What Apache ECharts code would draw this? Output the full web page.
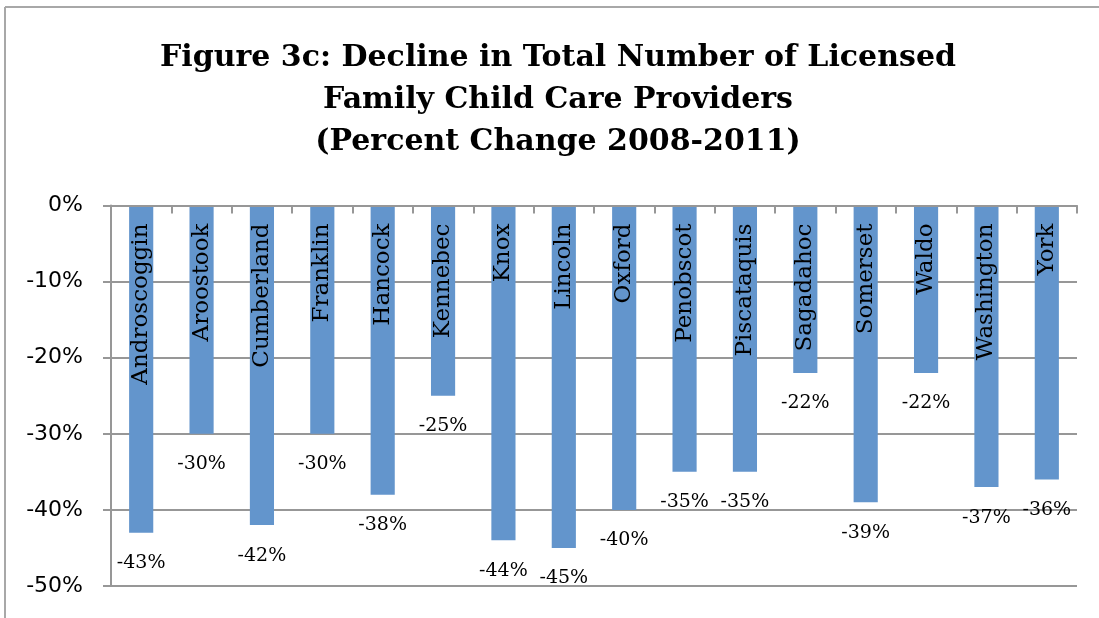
<!DOCTYPE html>
<html>
<head>
<meta charset="utf-8">
<script src="https://cdn.jsdelivr.net/npm/echarts@6/dist/echarts.min.js"></script>
<style>
html, body { margin: 0; padding: 0; background: #ffffff; }
#chart { width: 1099px; height: 618px; }
</style>
</head>
<body>
<div id="chart"></div>
<script>
const titleLines = [
  'Figure 3c: Decline in Total Number of Licensed',
  'Family Child Care Providers',
  '(Percent Change 2008-2011)'
];
const counties = ['Androscoggin', 'Aroostook', 'Cumberland', 'Franklin', 'Hancock', 'Kennebec', 'Knox', 'Lincoln', 'Oxford', 'Penobscot', 'Piscataquis', 'Sagadahoc', 'Somerset', 'Waldo', 'Washington', 'York'];
const percentChange = [-43, -30, -42, -30, -38, -25, -44, -45, -40, -35, -35, -22, -39, -22, -37, -36];
const yTicks = [0, -10, -20, -30, -40, -50];

const chart = echarts.init(document.getElementById('chart'), null, { renderer: 'canvas' });
const lineColor = '#979797';
chart.setOption({
  backgroundColor: '#ffffff',
  animation: false,
  title: {
    text: titleLines.join('\n'),
    left: 558,
    top: 37,
    padding: 0,
    textAlign: 'center',
    textStyle: {
      fontFamily: 'DejaVu Serif',
      fontWeight: 'bold',
      fontSize: 30,
      lineHeight: 42,
      color: '#000000'
    }
  },
  graphic: [
    { type: 'line', shape: { x1: 5, y1: 7, x2: 1099, y2: 7 }, style: { stroke: '#a8a8a8', lineWidth: 2 } },
    { type: 'line', shape: { x1: 5, y1: 7, x2: 5, y2: 618 }, style: { stroke: '#a8a8a8', lineWidth: 2 } }
  ],
  grid: { left: 111, right: 22, top: 205.5, bottom: 32, containLabel: false },
  xAxis: {
    type: 'category',
    position: 'top',
    data: counties,
    z: 5,
    axisLine: { show: true, lineStyle: { color: lineColor, width: 2 } },
    axisTick: { show: true, inside: true, length: 8, lineStyle: { color: lineColor, width: 2 } },
    axisLabel: {
      inside: true,
      rotate: 90,
      margin: 18,
      interval: 0,
      fontFamily: 'DejaVu Serif',
      fontSize: 23,
      color: '#000000'
    },
    splitLine: { show: false }
  },
  yAxis: {
    type: 'value',
    min: -50,
    max: 0,
    interval: 10,
    axisLine: { show: true, lineStyle: { color: lineColor, width: 2 } },
    axisTick: { show: true, length: 8, lineStyle: { color: lineColor, width: 2 } },
    axisLabel: {
      margin: 28,
      formatter: function (v) { return v + '%'; },
      fontFamily: 'DejaVu Sans',
      fontSize: 22,
      color: '#000000'
    },
    splitLine: { show: true, lineStyle: { color: lineColor, width: 2 } }
  },
  series: [{
    type: 'bar',
    data: percentChange,
    barCategoryGap: '60%',
    itemStyle: { color: '#6395CC' },
    label: {
      show: true,
      position: 'bottom',
      distance: 21,
      formatter: function (p) { return p.value + '%'; },
      fontFamily: 'DejaVu Serif',
      fontSize: 19,
      color: '#000000'
    }
  }]
});
</script>
</body>
</html>
